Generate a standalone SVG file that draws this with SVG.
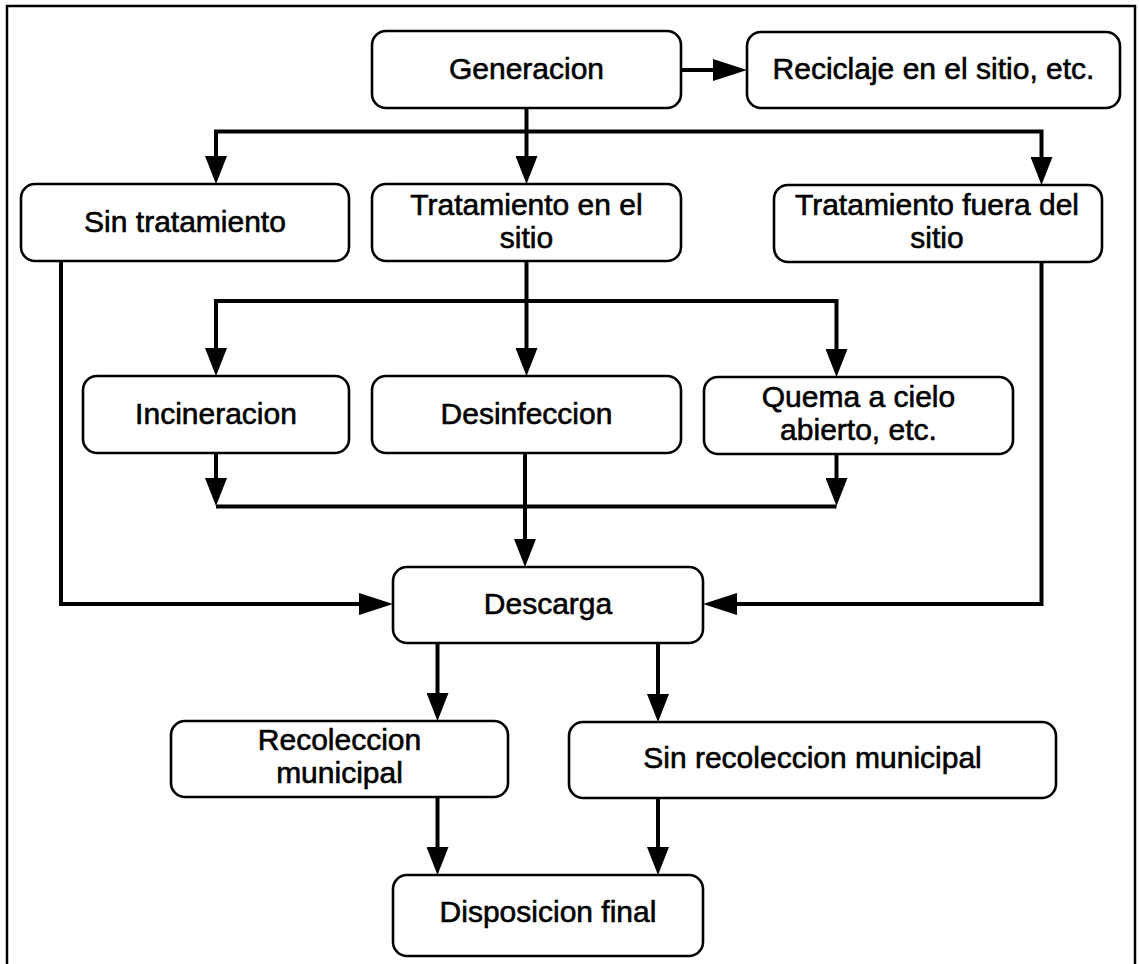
<svg xmlns="http://www.w3.org/2000/svg" width="1139" height="964" viewBox="0 0 1139 964">
  <style>
    .box { fill: #fff; stroke: #000; stroke-width: 2.6; }
    .lbl { font-family: "Liberation Sans", Arial, sans-serif; font-size: 30px; fill: #000; stroke: #000; stroke-width: 0.6; text-anchor: middle; }
    .con { fill: none; stroke: #000; stroke-width: 4; stroke-linejoin: miter; }
    .frame { fill: none; stroke: #000; stroke-width: 2.5; }
  </style>
  <defs>
    <marker id="av" viewBox="0 0 28 22" refX="18" refY="11" markerWidth="28" markerHeight="22" markerUnits="userSpaceOnUse" orient="auto-start-reverse">
      <path d="M0,0 L28,11 L0,22 Z" fill="#000"/>
    </marker>
    <marker id="ah" viewBox="0 0 34 22" refX="24" refY="11" markerWidth="34" markerHeight="22" markerUnits="userSpaceOnUse" orient="auto-start-reverse">
      <path d="M0,0 L34,11 L0,22 Z" fill="#000"/>
    </marker>
  </defs>
  <rect width="1139" height="964" fill="#fff"/>
  <path class="frame" d="M7,970 V6 H1135 V970"/>

  <g id="connectors">
    <path class="con" d="M681,70 H737" marker-end="url(#ah)"/>
    <path class="con" d="M216,174 V131.5 H1041.5 V175" marker-start="url(#av)" marker-end="url(#av)"/>
    <path class="con" d="M526.5,108 V174" marker-end="url(#av)"/>
    <path class="con" d="M526.5,261 V366" marker-end="url(#av)"/>
    <path class="con" d="M216,366 V301 H836.5 V367" marker-start="url(#av)" marker-end="url(#av)"/>
    <path class="con" d="M216,453 V496" marker-end="url(#av)"/>
    <path class="con" d="M836.5,454 V496" marker-end="url(#av)"/>
    <path class="con" d="M216,506.5 H836.5"/>
    <path class="con" d="M525,453 V557" marker-end="url(#av)"/>
    <path class="con" d="M61,261 V604 H383" marker-end="url(#ah)"/>
    <path class="con" d="M1041.5,262 V604 H713" marker-end="url(#ah)"/>
    <path class="con" d="M437.5,643 V711" marker-end="url(#av)"/>
    <path class="con" d="M658,643 V712" marker-end="url(#av)"/>
    <path class="con" d="M437.5,797 V865" marker-end="url(#av)"/>
    <path class="con" d="M658,798 V865" marker-end="url(#av)"/>
  </g>

  <g id="generacion">
    <rect class="box" x="372" y="31" width="309" height="77" rx="14"/>
    <text class="lbl" x="526.5" y="79">Generacion</text>
  </g>
  <g id="reciclaje">
    <rect class="box" x="747" y="32" width="373" height="76" rx="14"/>
    <text class="lbl" x="933.5" y="79">Reciclaje en el sitio, etc.</text>
  </g>
  <g id="sin-tratamiento">
    <rect class="box" x="21" y="184" width="328" height="77" rx="14"/>
    <text class="lbl" x="185" y="232">Sin tratamiento</text>
  </g>
  <g id="tratamiento-sitio">
    <rect class="box" x="372" y="184" width="309" height="77" rx="14"/>
    <text class="lbl" x="526.5" y="215">Tratamiento en el</text>
    <text class="lbl" x="526.5" y="248">sitio</text>
  </g>
  <g id="tratamiento-fuera">
    <rect class="box" x="774" y="185" width="328" height="77" rx="14"/>
    <text class="lbl" x="937" y="215">Tratamiento fuera del</text>
    <text class="lbl" x="937" y="248">sitio</text>
  </g>
  <g id="incineracion">
    <rect class="box" x="83" y="376" width="266" height="77" rx="14"/>
    <text class="lbl" x="216" y="424">Incineracion</text>
  </g>
  <g id="desinfeccion">
    <rect class="box" x="372" y="376" width="309" height="77" rx="14"/>
    <text class="lbl" x="526.5" y="424">Desinfeccion</text>
  </g>
  <g id="quema">
    <rect class="box" x="704" y="377" width="309" height="77" rx="14"/>
    <text class="lbl" x="858.5" y="407">Quema a cielo</text>
    <text class="lbl" x="858.5" y="440">abierto, etc.</text>
  </g>
  <g id="descarga">
    <rect class="box" x="393" y="567" width="310" height="76" rx="14"/>
    <text class="lbl" x="548" y="614">Descarga</text>
  </g>
  <g id="recoleccion">
    <rect class="box" x="171" y="721" width="337" height="76" rx="14"/>
    <text class="lbl" x="339.5" y="750">Recoleccion</text>
    <text class="lbl" x="339.5" y="783">municipal</text>
  </g>
  <g id="sin-recoleccion">
    <rect class="box" x="569" y="722" width="487" height="76" rx="14"/>
    <text class="lbl" x="812.5" y="768">Sin recoleccion municipal</text>
  </g>
  <g id="disposicion">
    <rect class="box" x="393" y="875" width="310" height="81" rx="14"/>
    <text class="lbl" x="548" y="922">Disposicion final</text>
  </g>
</svg>
